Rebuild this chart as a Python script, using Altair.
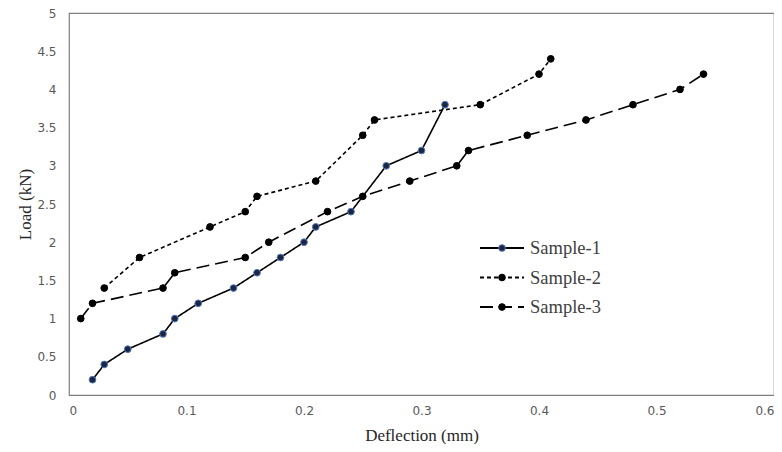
import altair as alt
import pandas as pd

s1_x = [0.02, 0.03, 0.05, 0.08, 0.09, 0.11, 0.14, 0.16, 0.18, 0.20, 0.21, 0.24, 0.27, 0.30, 0.32]
s1_y = [0.2, 0.4, 0.6, 0.8, 1.0, 1.2, 1.4, 1.6, 1.8, 2.0, 2.2, 2.4, 3.0, 3.2, 3.8]

s2_x = [0.03, 0.06, 0.12, 0.15, 0.16, 0.21, 0.25, 0.26, 0.35, 0.40, 0.41]
s2_y = [1.4, 1.8, 2.2, 2.4, 2.6, 2.8, 3.4, 3.6, 3.8, 4.2, 4.4]

s3_x = [0.01, 0.02, 0.08, 0.09, 0.15, 0.17, 0.22, 0.25, 0.29, 0.33, 0.34, 0.39, 0.44, 0.48, 0.52, 0.54]
s3_y = [1.0, 1.2, 1.4, 1.6, 1.8, 2.0, 2.4, 2.6, 2.8, 3.0, 3.2, 3.4, 3.6, 3.8, 4.0, 4.2]

series = ["Sample-1", "Sample-2", "Sample-3"]

rows = []
for name, xs, ys in [(series[0], s1_x, s1_y), (series[1], s2_x, s2_y), (series[2], s3_x, s3_y)]:
    for i, (xv, yv) in enumerate(zip(xs, ys)):
        rows.append({"Series": name, "x": xv, "y": yv, "order": i})
df = pd.DataFrame(rows)

x_enc = alt.X("x:Q", scale=alt.Scale(domain=[0, 0.6], nice=False),
              axis=alt.Axis(values=[0, 0.1, 0.2, 0.3, 0.4, 0.5, 0.6], title="Deflection (mm)",
                            format="~g",
                            labelFont="DejaVu Sans", labelFontSize=12, labelColor="#595959",
                            labelPadding=10, domain=False, ticks=False, grid=False,
                            titleFont="Liberation Serif", titleFontSize=17, titleFontWeight="normal",
                            titleColor="#262626", titleY=40, titleBaseline="middle"))
y_enc = alt.Y("y:Q", scale=alt.Scale(domain=[0, 5], nice=False),
              axis=alt.Axis(values=[0, 0.5, 1, 1.5, 2, 2.5, 3, 3.5, 4, 4.5, 5], title="Load (kN)",
                            format="~g",
                            labelFont="DejaVu Sans", labelFontSize=12, labelColor="#595959",
                            labelPadding=13, domain=False, ticks=False, grid=False,
                            titleFont="Liberation Serif", titleFontSize=17, titleFontWeight="normal",
                            titleColor="#262626", titleX=-44, titleBaseline="middle", titleAngle=-90))

lines = alt.Chart(df).mark_line(color="black", strokeWidth=1.6).encode(
    x=x_enc, y=y_enc, order="order:Q",
    strokeDash=alt.StrokeDash("Series:N",
        scale=alt.Scale(domain=series, range=[[1, 0], [4, 3], [13, 6]]),
        legend=alt.Legend(orient="none", legendX=410, legendY=225, title=None, padding=0,
                          symbolType="stroke", symbolSize=1936, symbolStrokeColor="black",
                          symbolStrokeWidth=2, clipHeight=20, rowPadding=9.5,
                          labelFont="Liberation Serif", labelFontSize=18.5, labelColor="#404040",
                          labelOffset=5)),
)

pt_legend = alt.Legend(orient="none", legendX=410, legendY=225, title=None, padding=0,
                       symbolType="circle", symbolSize=45, symbolStrokeWidth=1,
                       clipHeight=20, rowPadding=9.5, symbolOffset=15.5,
                       labelFont="Liberation Serif", labelFontSize=15, labelExpr="''")

points = alt.Chart(df).mark_point(shape="circle", size=45, opacity=1, strokeWidth=1).encode(
    x=x_enc, y=y_enc,
    fill=alt.Fill("Series:N", scale=alt.Scale(domain=series, range=["#1c2640", "black", "black"]),
                  legend=pt_legend),
    stroke=alt.Stroke("Series:N", scale=alt.Scale(domain=series, range=["#4f78c0", "black", "black"]),
                      legend=pt_legend),
)

chart = alt.layer(lines, points).resolve_legend(
    strokeDash="independent", fill="independent", stroke="independent"
).properties(
    width=705, height=382,
    autosize=alt.AutoSizeParams(type="none"),
    padding={"left": 61, "top": 5, "right": 0, "bottom": 49},
).configure_view(stroke="#7f7f7f", strokeWidth=1.2)

chart.save("out.html", embed_options={"renderer": "svg", "actions": False})
